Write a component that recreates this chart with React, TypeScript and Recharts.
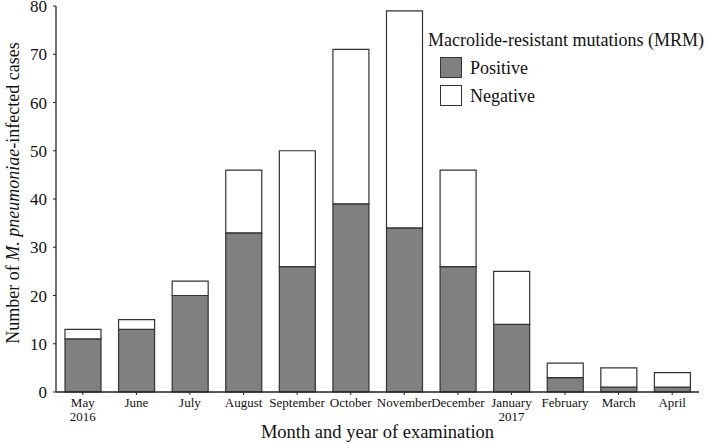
import { BarChart, Bar, XAxis, YAxis } from 'recharts';

const months = [
  'May\n2016',
  'June',
  'July',
  'August',
  'September',
  'October',
  'November',
  'December',
  'January\n2017',
  'February',
  'March',
  'April',
];
const positive = [11, 13, 20, 33, 26, 39, 34, 26, 14, 3, 1, 1];
const negative = [2, 2, 3, 13, 24, 32, 45, 20, 11, 3, 4, 3];
const yTicks = [0, 10, 20, 30, 40, 50, 60, 70, 80];

const data = months.map((month, i) => ({
  month,
  positive: positive[i],
  negative: negative[i],
}));

const FONT = '"Liberation Serif", "Times New Roman", serif';
const EDGE = '#333';

const MonthTick = (props: any) => {
  const { x, y, payload } = props;
  const lines = String(payload.value).split('\n');
  return (
    <text x={x} y={y} textAnchor="middle" fontFamily={FONT} fontSize={13} fill="#111">
      {lines.map((line, i) => (
        <tspan key={i} x={x} dy={i === 0 ? 12 : 14}>
          {line}
        </tspan>
      ))}
    </text>
  );
};

const YTitle = (props: any) => {
  const { viewBox } = props;
  const cx = viewBox.x + 13;
  const cy = viewBox.y + viewBox.height / 2 - 6;
  return (
    <text
      x={cx}
      y={cy}
      transform={`rotate(-90, ${cx}, ${cy})`}
      textAnchor="middle"
      dominantBaseline="central"
      fontFamily={FONT}
      fontSize={18}
      fill="#111"
    >
      Number of <tspan fontStyle="italic">M. pneumoniae</tspan>-infected cases
    </text>
  );
};

const XTitle = (props: any) => {
  const { viewBox } = props;
  return (
    <text
      x={viewBox.x + viewBox.width / 2}
      y={viewBox.y + 40}
      textAnchor="middle"
      dominantBaseline="central"
      fontFamily={FONT}
      fontSize={18.5}
      fill="#111"
    >
      Month and year of examination
    </text>
  );
};

const swatch = (fill: string) => ({
  display: 'inline-block',
  width: 20,
  height: 19,
  background: fill,
  border: `1.2px solid ${EDGE}`,
  marginRight: 8,
  verticalAlign: 'middle',
});

const LegendBox = () => (
  <div
    style={{
      position: 'absolute',
      left: 428,
      top: 27,
      width: 290,
      fontFamily: FONT,
      fontSize: 18,
      color: '#111',
      lineHeight: '26px',
    }}
  >
    <div>Macrolide-resistant mutations (MRM)</div>
    <div style={{ paddingLeft: 12 }}>
      <span style={swatch('#808080')} />
      <span style={{ verticalAlign: 'middle' }}>Positive</span>
    </div>
    <div style={{ paddingLeft: 12 }}>
      <span style={swatch('#fff')} />
      <span style={{ verticalAlign: 'middle' }}>Negative</span>
    </div>
  </div>
);

export default function App() {
  return (
    <div style={{ position: 'absolute', left: 0, top: 0, width: 709, height: 442, background: '#fff' }}>
      <BarChart
        width={709}
        height={442}
        data={data}
        margin={{ top: 6, right: 10, bottom: 0, left: 0 }}
        barSize={36}
      >
        <XAxis
          dataKey="month"
          interval={0}
          height={50}
          tick={<MonthTick />}
          tickSize={3}
          tickMargin={0}
          axisLine={{ stroke: '#222', strokeWidth: 1.3 }}
          tickLine={{ stroke: '#222' }}
          label={<XTitle />}
        />
        <YAxis
          width={56}
          domain={[0, 80]}
          ticks={yTicks}
          interval={0}
          tickSize={3}
          tickMargin={6}
          tick={{ fontFamily: FONT, fontSize: 17, fill: '#111' }}
          axisLine={{ stroke: '#222', strokeWidth: 1.3 }}
          tickLine={{ stroke: '#222' }}
          label={<YTitle />}
        />
        <Bar
          dataKey="positive"
          name="Positive"
          stackId="mrm"
          fill="#808080"
          stroke={EDGE}
          strokeWidth={1.2}
          isAnimationActive={false}
        />
        <Bar
          dataKey="negative"
          name="Negative"
          stackId="mrm"
          fill="#ffffff"
          stroke={EDGE}
          strokeWidth={1.2}
          isAnimationActive={false}
        />
      </BarChart>
      <LegendBox />
    </div>
  );
}
